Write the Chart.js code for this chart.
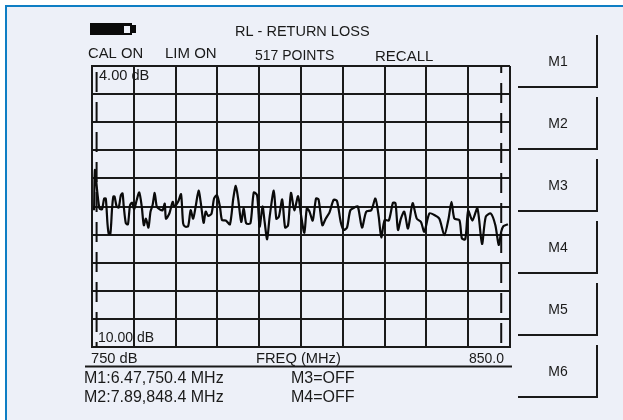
<!DOCTYPE html>
<html>
<head>
<meta charset="utf-8">
<title>RL - RETURN LOSS</title>
<script src="https://cdn.jsdelivr.net/npm/chart.js@4"></script>
<style>
    html, body { margin: 0; padding: 0; background: #fff; overflow: hidden; }
    canvas { display: block; }
</style>
</head>
<body>
<canvas id="grafico" width="623" height="420"></canvas>
<script>
const freqs = [750.5, 750.7, 751.3, 751.8, 752.4, 752.9, 753.3, 753.7, 754.0, 754.4, 754.8, 755.1, 755.4, 755.9, 756.4, 756.9, 757.3, 757.6, 758.1, 758.6,
    759.1, 759.6, 760.1, 760.7, 761.3, 761.9, 762.4, 762.9, 763.5, 764.0, 764.5, 765.0, 765.5, 766.2, 766.9, 767.4, 767.7, 768.5, 769.3, 769.7,
    770.6, 771.3, 771.8, 772.3, 773.0, 773.6, 774.2, 774.8, 775.5, 776.1, 776.7, 777.2, 777.8, 778.6, 779.2, 779.9, 780.6, 781.1, 782.0, 783.0,
    783.8, 784.4, 785.0, 785.7, 786.3, 786.9, 787.9, 788.7, 789.5, 790.1, 790.8, 791.3, 791.9, 792.5, 793.5, 794.1, 794.7, 795.5, 796.2, 796.9,
    797.6, 798.4, 799.3, 800.0, 800.8, 801.4, 802.0, 802.8, 803.6, 804.2, 805.1, 805.9, 806.8, 807.8, 808.6, 809.5, 810.2, 811.0, 811.8, 812.8,
    813.6, 814.6, 815.6, 816.8, 817.8, 818.6, 819.2, 820.0, 821.0, 822.0, 822.6, 823.2, 823.9, 824.7, 825.6, 826.7, 827.7, 828.7, 829.5, 830.7,
    831.9, 833.1, 834.3, 835.3, 836.0, 836.7, 837.9, 838.5, 839.3, 840.0, 841.0, 842.2, 843.3, 844.2, 845.4, 846.5, 847.3, 847.9, 848.4, 849.5];
const returnLoss = [7.08, 6.22, 6.72, 7.04, 7.06, 6.83, 6.83, 7.36, 7.58, 7.58, 7.04, 6.79, 6.79, 7.0, 7.02, 6.76, 6.72, 7.0, 7.36, 7.38,
    6.97, 6.92, 7.06, 6.86, 6.70, 7.0, 7.4, 7.26, 7.45, 7.11, 6.97, 6.71, 7.0, 7.06, 7.08, 6.94, 7.26, 7.15, 6.9, 7.0,
    6.9, 6.74, 7.36, 7.43, 7.42, 7.08, 7.26, 7.0, 6.66, 6.97, 7.35, 7.11, 7.2, 7.15, 6.83, 6.76, 7.0, 7.29, 7.3, 7.38,
    6.83, 6.56, 6.86, 7.33, 7.04, 7.36, 7.36, 6.7, 6.76, 7.43, 7.0, 7.33, 7.7, 7.22, 6.66, 7.26, 7.22, 6.85, 7.45, 7.4,
    6.71, 7.08, 6.78, 7.18, 7.56, 7.04, 7.1, 7.3, 6.83, 6.85, 7.4, 7.26, 7.13, 6.86, 6.88, 7.33, 7.5, 7.45, 7.08, 7.02,
    7.0, 7.45, 7.11, 7.08, 6.83, 7.22, 7.66, 7.29, 7.3, 6.92, 6.93, 7.5, 7.26, 7.11, 7.47, 6.93, 7.26, 7.33, 7.54, 7.15,
    7.18, 7.26, 7.61, 7.26, 6.9, 7.26, 7.29, 7.68, 7.7, 7.09, 7.3, 7.04, 7.8, 7.22, 7.15, 7.4, 7.82, 7.54, 7.42, 7.38];
const markerFreqs = [751.1, 847.9];
const dbRange = [4, 10];
const freqRange = [750, 850];
const softKeys = ["M1", "M2", "M3", "M4", "M5", "M6"];

const pontos = freqs.map((f, i) => ({ x: f, y: returnLoss[i] }));
const marcador = (f, offset) => ({
    data: dbRange.map(d => ({ x: f, y: d })),
    borderColor: "#111",
    borderWidth: 2,
    borderDash: [20, 10],
    borderDashOffset: offset,
    pointRadius: 0
});

// tudo que e moldura do instrumento fica neste plugin
const moldura = {
    id: "moldura",
    beforeDraw(chart) {
        const c = chart.ctx;
        c.save();
        c.fillStyle = "#fff";
        c.fillRect(0, 0, 623, 420);
        c.fillStyle = "#0e7ec4";
        c.fillRect(5, 5, 618, 415);
        c.fillStyle = "#edf0f8";
        c.fillRect(7, 7, 616, 413);
        c.restore();
    },
    afterDraw(chart) {
        const c = chart.ctx;
        const texto = (t, x, y, tam) => {
            c.font = tam + "px 'Liberation Sans'";
            c.fillText(t, x, y);
        };
        c.save();
        c.fillStyle = "#1a1a1a";
        c.textBaseline = "alphabetic";
        texto("RL - RETURN LOSS", 235, 36, 14.5);
        texto("CAL ON", 88, 58, 14.8);
        texto("LIM ON", 165, 58, 15);
        texto("517 POINTS", 255, 60, 14);
        texto("RECALL", 375, 61, 15);
        texto("4.00 dB", 99, 80, 14.6);
        texto("10.00 dB", 98, 342, 14);
        texto("750 dB", 91, 363, 14.7);
        texto("FREQ (MHz)", 256, 363, 14.7);
        texto("850.0", 469, 363, 14);
        texto("M1:6.47,750.4 MHz", 84, 382.5, 16);
        texto("M2:7.89,848.4 MHz", 84, 402, 16);
        texto("M3=OFF", 291, 382.5, 16);
        texto("M4=OFF", 291, 402, 16);

        // bateria
        c.fillStyle = "#0a0a0a";
        c.fillRect(90, 23, 42, 12);
        c.fillRect(132, 25, 4, 8);
        c.fillStyle = "#edf0f8";
        c.fillRect(124, 26, 6, 7);

        // teclas laterais
        c.strokeStyle = "#1a1a1a";
        c.fillStyle = "#1a1a1a";
        c.lineWidth = 2;
        softKeys.forEach((k, i) => {
            const fim = 87 + i * 62;
            c.beginPath();
            c.moveTo(518, fim);
            c.lineTo(597, fim);
            c.lineTo(597, fim - 52);
            c.stroke();
            c.textAlign = "center";
            texto(k, 558, fim - 21.5, 14);
        });
        c.textAlign = "left";
        c.beginPath();
        c.moveTo(85, 366.5);
        c.lineTo(512, 366.5);
        c.stroke();
        c.restore();
    }
};

new Chart(document.getElementById("grafico"), {
    type: "line",
    data: {
        datasets: [
            { data: pontos, borderColor: "#0a0a0a", borderWidth: 2.2, pointRadius: 0, tension: 0.25 },
            marcador(markerFreqs[0], 24),
            marcador(markerFreqs[1], 13)
        ]
    },
    options: {
        responsive: false,
        animation: false,
        layout: { padding: { left: 92, right: 113, top: 66, bottom: 73 } },
        plugins: { legend: { display: false }, title: { display: false }, tooltip: { enabled: false } },
        scales: {
            x: {
                type: "linear",
                min: freqRange[0],
                max: freqRange[1],
                ticks: { display: false, stepSize: 10 },
                grid: { color: "#1a1a1a", lineWidth: 2, drawTicks: false },
                border: { color: "#1a1a1a", width: 2 }
            },
            y: {
                type: "linear",
                reverse: true,
                min: dbRange[0],
                max: dbRange[1],
                ticks: { display: false, stepSize: 0.6 },
                grid: { color: "#1a1a1a", lineWidth: 2, drawTicks: false },
                border: { color: "#1a1a1a", width: 2 }
            }
        }
    },
    plugins: [moldura]
});
</script>
</body>
</html>
